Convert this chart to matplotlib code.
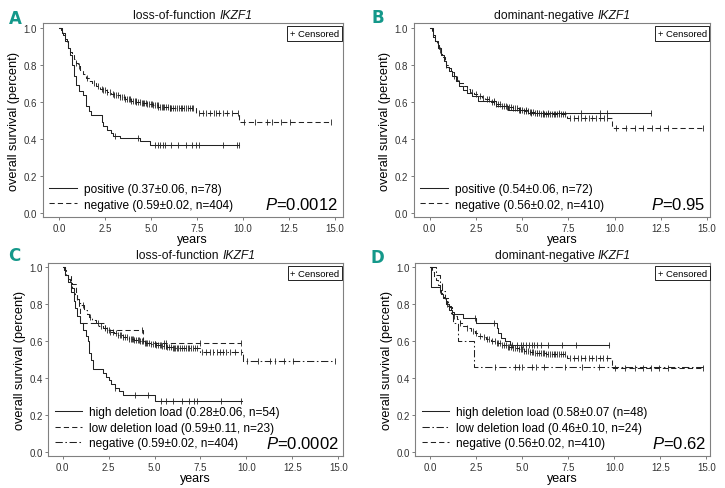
import numpy as np
import matplotlib
matplotlib.use("Agg")
import matplotlib.pyplot as plt
from matplotlib.offsetbox import TextArea, HPacker, AnchoredOffsetbox

plt.rcParams["font.family"] = ["Liberation Sans", "DejaVu Sans"]
plt.rcParams["mathtext.fontset"] = "custom"
plt.rcParams["mathtext.rm"] = "Liberation Sans"
plt.rcParams["mathtext.it"] = "Liberation Sans:italic"

# loss-of-function IKZF1, negative (n=404) - shared by A and C
neg_lof_t = [0, 0.1, 0.2, 0.3, 0.4, 0.5, 0.6, 0.7, 0.8, 0.9, 1.0, 1.15, 1.3, 1.45, 1.6, 1.8,
             2.0, 2.2, 2.4, 2.6, 2.8, 3.0, 3.3, 3.6, 3.9, 4.2, 4.5, 4.8, 5.1, 5.4, 5.7, 6.0,
             7.45, 9.8]
neg_lof_s = [1.0, 0.985, 0.96, 0.94, 0.915, 0.89, 0.87, 0.85, 0.83, 0.81, 0.795, 0.77, 0.75,
             0.73, 0.715, 0.70, 0.685, 0.672, 0.662, 0.653, 0.645, 0.637, 0.626, 0.615, 0.607,
             0.60, 0.594, 0.588, 0.581, 0.575, 0.57, 0.567, 0.543, 0.493]
neg_lof_end = 14.8
neg_lof_cens = [0.9, 1.1, 1.5, 1.9, 2.1, 2.3, 2.4, 2.5, 2.6, 2.75, 2.9, 3.0, 3.1, 3.2, 3.3,
                3.4, 3.5, 3.6, 3.7, 3.8, 3.85, 3.9, 4.0, 4.1, 4.15, 4.2, 4.3, 4.4, 4.5, 4.55,
                4.6, 4.7, 4.8, 4.9, 5.0, 5.05, 5.1, 5.2, 5.3, 5.35, 5.4, 5.5, 5.6, 5.65, 5.7,
                5.8, 5.9, 6.0, 6.05, 6.1, 6.2, 6.3, 6.4, 6.5, 6.6, 6.7, 6.8, 6.9, 7.0, 7.1,
                7.2, 7.3, 7.6, 7.8, 8.0, 8.2, 8.4, 8.55, 8.7, 8.9, 9.1, 9.4, 9.7, 10.05, 10.65,
                11.3, 11.55, 12.05, 12.55, 14.8]

# loss-of-function IKZF1, positive (n=78)
pos_lof_t = [0, 0.15, 0.3, 0.45, 0.6, 0.7, 0.8, 0.9, 1.05, 1.3, 1.45, 1.6, 1.75, 2.3, 2.4,
             2.6, 2.8, 2.95, 3.3, 4.4, 4.95]
pos_lof_s = [1.0, 0.97, 0.93, 0.89, 0.85, 0.80, 0.74, 0.69, 0.66, 0.635, 0.58, 0.55, 0.527,
             0.49, 0.47, 0.45, 0.43, 0.415, 0.405, 0.39, 0.369]
pos_lof_end = 9.8
pos_lof_cens = [3.05, 4.3, 5.2, 5.35, 5.5, 5.65, 5.75, 6.1, 6.45, 6.9, 7.2, 7.45, 7.6, 8.9,
                9.65, 9.8]

# dominant-negative IKZF1, negative (n=410) - shared by B and D
neg_dn_t = [0, 0.1, 0.2, 0.3, 0.4, 0.5, 0.6, 0.7, 0.8, 0.9, 1.0, 1.15, 1.3, 1.45, 1.6, 1.8,
            2.0, 2.2, 2.4, 2.6, 2.8, 3.0, 3.3, 3.6, 3.9, 4.2, 4.5, 4.8, 5.1, 5.4, 5.7, 6.0,
            6.3, 7.42, 9.85]
neg_dn_s = [1.0, 0.975, 0.95, 0.93, 0.905, 0.88, 0.86, 0.84, 0.82, 0.80, 0.785, 0.76, 0.74,
            0.72, 0.70, 0.685, 0.67, 0.655, 0.643, 0.632, 0.622, 0.613, 0.60, 0.59, 0.58,
            0.57, 0.565, 0.557, 0.55, 0.545, 0.54, 0.537, 0.534, 0.513, 0.458]
neg_dn_end = 14.8
neg_dn_cens = [0.55, 0.9, 1.3, 1.6, 2.0, 2.3, 2.5, 2.7, 2.9, 3.1, 3.2, 3.35, 3.5, 3.6, 3.7,
               3.8, 3.9, 4.0, 4.1, 4.2, 4.3, 4.4, 4.5, 4.6, 4.7, 4.8, 4.9, 5.0, 5.1, 5.2,
               5.3, 5.4, 5.5, 5.6, 5.7, 5.8, 5.9, 6.0, 6.1, 6.2, 6.3, 6.4, 6.5, 6.6, 6.7,
               6.8, 6.9, 7.0, 7.1, 7.2, 7.3, 7.6, 7.8, 8.0, 8.2, 8.4, 8.6, 8.8, 9.0, 9.2,
               9.4, 9.6, 10.05, 10.6, 11.1, 11.55, 12.0, 12.45, 12.9, 14.8]

# dominant-negative IKZF1, positive (n=72)
pos_dn_t = [0, 0.15, 0.3, 0.45, 0.6, 0.75, 0.9, 1.05, 1.2, 1.4, 1.6, 1.8, 2.0, 2.3, 2.6,
            3.6, 4.25, 5.3]
pos_dn_s = [1.0, 0.96, 0.93, 0.89, 0.855, 0.82, 0.79, 0.765, 0.74, 0.71, 0.685, 0.665, 0.65,
            0.63, 0.607, 0.578, 0.555, 0.541]
pos_dn_end = 11.95
pos_dn_cens = [3.5, 4.9, 5.2, 5.5, 5.8, 6.1, 6.4, 7.0, 8.2, 9.2, 9.6, 11.95]

# loss-of-function, high deletion load (n=54)
high_lof_t = [0, 0.15, 0.3, 0.45, 0.6, 0.7, 0.8, 0.95, 1.1, 1.25, 1.38, 1.45, 1.55, 1.67,
              2.2, 2.35, 2.5, 2.65, 2.85, 3.05, 3.3, 5.0]
high_lof_s = [1.0, 0.96, 0.92, 0.87, 0.82, 0.78, 0.74, 0.70, 0.66, 0.63, 0.60, 0.54, 0.50,
              0.45, 0.43, 0.41, 0.39, 0.37, 0.35, 0.33, 0.31, 0.28]
high_lof_end = 9.75
high_lof_cens = [2.85, 3.95, 4.65, 5.35, 5.6, 6.0, 6.5, 6.85, 7.15, 7.3, 8.6, 9.7]

# loss-of-function, low deletion load (n=23)
low_lof_t = [0, 0.15, 0.45, 0.72, 0.8, 0.88, 0.95, 2.3, 4.35]
low_lof_s = [1.0, 0.957, 0.913, 0.87, 0.826, 0.78, 0.70, 0.66, 0.59]
low_lof_end = 9.7
low_lof_cens = [4.3, 5.5, 5.65, 7.45, 9.7]

# dominant-negative, high deletion load (n=48)
high_dn_t = [0, 0.05, 0.5, 0.6, 0.7, 0.85, 1.0, 1.2, 1.8, 2.5, 3.62, 3.7, 3.85, 4.05, 4.35]
high_dn_s = [1.0, 0.896, 0.875, 0.854, 0.833, 0.80, 0.77, 0.748, 0.725, 0.70, 0.67, 0.645,
             0.62, 0.60, 0.58]
high_dn_end = 9.7
high_dn_cens = [2.4, 3.45, 4.45, 4.7, 4.9, 5.05, 5.2, 5.35, 5.5, 5.65, 5.8, 6.0, 6.4, 7.15,
                7.9, 9.7]

# dominant-negative, low deletion load (n=24)
low_dn_t = [0, 0.3, 0.5, 0.65, 0.8, 0.95, 1.1, 1.25, 1.52, 2.35]
low_dn_s = [1.0, 0.958, 0.917, 0.875, 0.833, 0.792, 0.75, 0.70, 0.60, 0.46]
low_dn_end = 14.8
low_dn_cens = [3.5, 4.6, 4.8, 4.98, 5.55, 5.75, 6.2, 7.33, 8.25, 9.15]

titles = ["loss-of-function", "dominant-negative", "loss-of-function", "dominant-negative"]
gene = "IKZF1"
p_values = ["0.0012", "0.95", "0.0002", "0.62"]
panel_letters = ["A", "B", "C", "D"]

LINE = "#222222"
SOLID = "-"
DASH = (0, (5, 3))
DASHDOT = (0, (7, 2.5, 1.5, 2.5))


def km(ax, t, s, end, cens, ls, label):
    tt = list(t) + [end]
    ss = list(s) + [s[-1]]
    line, = ax.plot(tt, ss, drawstyle="steps-post", color=LINE, lw=0.75, ls=ls, label=label)
    idx = np.searchsorted(t, cens, side="right") - 1
    ax.plot(cens, np.array(s)[idx], ls="none", marker="|", ms=4, mew=0.6, color=LINE)
    return line


def style(ax, title, p, xlim):
    ax.set_xlim(*xlim)
    ax.set_ylim(-0.02, 1.025)
    ax.set_xticks(np.arange(0, 15.1, 2.5))
    ax.set_xticklabels([f"{v:.1f}" for v in np.arange(0, 15.1, 2.5)])
    ax.set_yticks(np.arange(0, 1.01, 0.2))
    ax.set_yticklabels([f"{v:.1f}" for v in np.arange(0, 1.01, 0.2)])
    ax.tick_params(labelsize=7, length=2.5, width=0.6, color="#666666", labelcolor="#333333", pad=1.5)
    for sp in ax.spines.values():
        sp.set_color("#808080")
        sp.set_linewidth(0.8)

    # title: plain words + italic gene name
    parts = [TextArea(title + " ", textprops=dict(fontsize=8.7, color="#111111")),
             TextArea(gene, textprops=dict(fontsize=8.7, style="italic", color="#111111"))]
    box = AnchoredOffsetbox(loc="lower center", child=HPacker(children=parts, pad=0, sep=0),
                            bbox_to_anchor=(0.5, 1.0), bbox_transform=ax.transAxes,
                            frameon=False, pad=0.15, borderpad=0)
    ax.add_artist(box)

    ax.set_xlabel("years", fontsize=9, labelpad=0.5)
    ax.set_ylabel("overall survival (percent)", fontsize=9.2, labelpad=2.5)
    ax.text(0.985, 0.025, "$\\mathit{P}$=" + p, transform=ax.transAxes, ha="right", va="bottom",
            fontsize=12)
    ax.text(0.988, 0.97, "+ Censored", transform=ax.transAxes, ha="right", va="top", fontsize=6.8,
            bbox=dict(boxstyle="square,pad=0.3", fc="white", ec="black", lw=0.6))
    ax.legend(loc="lower left", fontsize=8.6, frameon=False, handlelength=2.3, handletextpad=0.6,
              borderaxespad=0.15, labelspacing=0.3)


fig = plt.figure(figsize=(7.25, 4.89), dpi=100)
axA = fig.add_axes([0.0589, 0.554, 0.414, 0.397])
axB = fig.add_axes([0.5706, 0.554, 0.409, 0.397])
axC = fig.add_axes([0.0666, 0.0654, 0.4066, 0.395])
axD = fig.add_axes([0.5728, 0.0654, 0.407, 0.395])

km(axA, pos_lof_t, pos_lof_s, pos_lof_end, pos_lof_cens, SOLID, "positive (0.37\u00b10.06, n=78)")
km(axA, neg_lof_t, neg_lof_s, neg_lof_end, neg_lof_cens, DASH, "negative (0.59\u00b10.02, n=404)")
style(axA, titles[0], p_values[0], (-0.9, 15.43))

km(axB, pos_dn_t, pos_dn_s, pos_dn_end, pos_dn_cens, SOLID, "positive (0.54\u00b10.06, n=72)")
km(axB, neg_dn_t, neg_dn_s, neg_dn_end, neg_dn_cens, DASH, "negative (0.56\u00b10.02, n=410)")
style(axB, titles[1], p_values[1], (-0.87, 15.17))

km(axC, high_lof_t, high_lof_s, high_lof_end, high_lof_cens, SOLID,
   "high deletion load (0.28\u00b10.06, n=54)")
km(axC, low_lof_t, low_lof_s, low_lof_end, low_lof_cens, DASH,
   "low deletion load (0.59\u00b10.11, n=23)")
km(axC, neg_lof_t, neg_lof_s, neg_lof_end, neg_lof_cens, DASHDOT,
   "negative (0.59\u00b10.02, n=404)")
style(axC, titles[2], p_values[2], (-0.78, 15.26))

km(axD, high_dn_t, high_dn_s, high_dn_end, high_dn_cens, SOLID,
   "high deletion load (0.58\u00b10.07 (n=48)")
km(axD, low_dn_t, low_dn_s, low_dn_end, low_dn_cens, DASHDOT,
   "low deletion load (0.46\u00b10.10, n=24)")
km(axD, neg_dn_t, neg_dn_s, neg_dn_end, neg_dn_cens, DASH,
   "negative (0.56\u00b10.02, n=410)")
style(axD, titles[3], p_values[3], (-0.82, 15.22))

letter_pos = [(15.5, 19), (378, 18), (14, 256), (377, 258)]
for letter, (px, py) in zip(panel_letters, letter_pos):
    fig.text(px / 725, 1 - py / 489, letter, color="#14988a", fontsize=12, fontweight="bold",
             ha="center", va="center", family="DejaVu Sans")

fig.savefig("out.png", dpi=100)
